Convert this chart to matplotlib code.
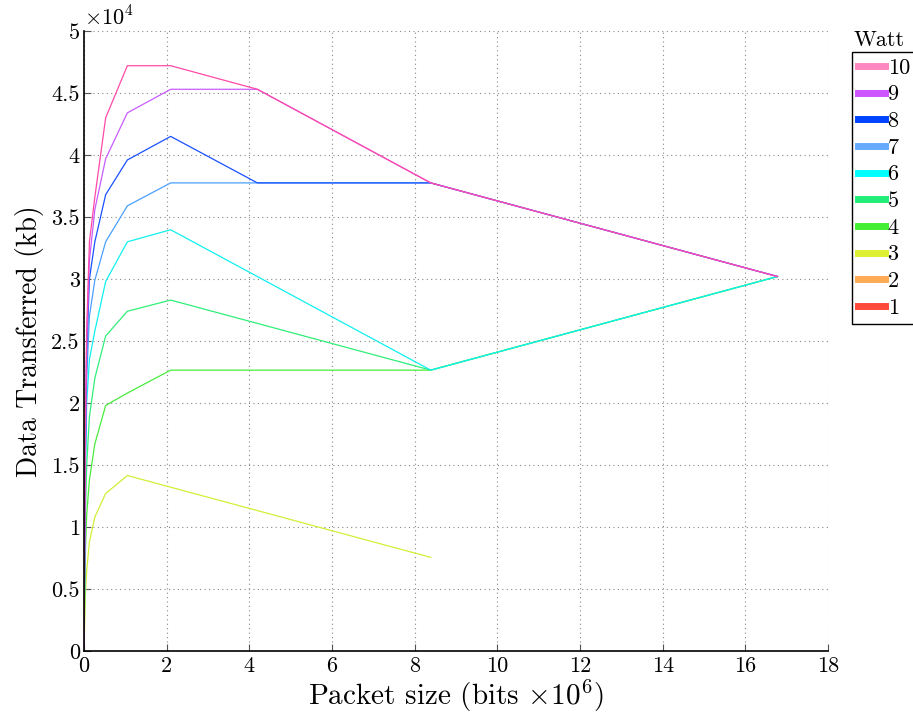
import matplotlib
matplotlib.use("Agg")
import matplotlib.pyplot as plt
import numpy as np
from matplotlib.lines import Line2D

plt.rcParams["font.family"] = ["cmr10", "DejaVu Serif"]
plt.rcParams["mathtext.fontset"] = "cm"
plt.rcParams["axes.formatter.use_mathtext"] = True

# packet sizes (bits x 10^6)
packet_size = [0.0, 0.0328, 0.0655, 0.131, 0.262, 0.524, 1.049, 2.097, 4.194, 8.389, 16.777]

# data transferred (kb) for each transmit power level (Watt)
watt_10 = [0, 18000, 26000, 33000, 36600, 43000, 47200, 47200, 45300, 37750, 30200]
watt_9 = [0, 17000, 25000, 31500, 35600, 39700, 43400, 45300, 45300, 37750, 30200]
watt_8 = [0, 16000, 24000, 30000, 33000, 36800, 39600, 41500, 37750, 37750, 30200]
watt_7 = [0, 15000, 22000, 27000, 29900, 33000, 35900, 37750, 37750, 37750, 30200]
watt_6 = [0, 14000, 20000, 23500, 25800, 29800, 33000, 33970, 30200, 22650, 30200]
watt_5 = [0, 11000, 15000, 18900, 22000, 25400, 27400, 28300, 26420, 22650, 30200]
watt_4 = [0, 8000, 11000, 13800, 16700, 19800, 20800, 22650, 22650, 22650, 30200]
watt_3 = [0, 4500, 6500, 8800, 10800, 12700, 14150, 13210, 11325, 7550, np.nan]
watt_2 = [np.nan] * len(packet_size)
watt_1 = [np.nan] * len(packet_size)

series_labels = ["10", "9", "8", "7", "6", "5", "4", "3", "2", "1"]
series_values = [watt_10, watt_9, watt_8, watt_7, watt_6, watt_5, watt_4, watt_3, watt_2, watt_1]
line_colors = ["#ff4aa8", "#c85cff", "#1a50ff", "#4aa0ff", "#10f0f0",
               "#30ee78", "#48ec3c", "#d4ee38", "#ffaa55", "#ff4a3a"]
legend_colors = ["#ff88c0", "#cc55ff", "#0044ff", "#66aaff", "#00ffff",
                 "#22ee77", "#44ee33", "#ddf033", "#ffaa55", "#ff4a3a"]

x_ticks = [0, 2, 4, 6, 8, 10, 12, 14, 16, 18]
y_ticks = [0, 5000, 10000, 15000, 20000, 25000, 30000, 35000, 40000, 45000, 50000]
y_tick_labels = ["0", "0.5", "1", "1.5", "2", "2.5", "3", "3.5", "4", "4.5", "5"]

fig = plt.figure(figsize=(9.13, 7.13), dpi=100)
ax = fig.add_axes([84 / 913, 1 - 651 / 713, (828 - 84) / 913, (651 - 31) / 713])

# draw lowest power first so higher power lines sit on top
for lbl, vals, col in reversed(list(zip(series_labels, series_values, line_colors))):
    ax.plot(packet_size, vals, color=col, lw=0.9)

ax.set_xlim(0, 18)
ax.set_ylim(0, 50000)
ax.set_xticks(x_ticks)
ax.set_xticklabels([str(t) for t in x_ticks])
ax.set_yticks(y_ticks)
ax.set_yticklabels(y_tick_labels)
ax.tick_params(direction="in", labelsize=16, length=5, width=0.8, color="#555555")
ax.tick_params(axis="y", pad=3)
ax.tick_params(axis="x", pad=4)
ax.grid(True, linestyle=(0, (1, 3)), color="#888888", lw=0.8)
for side in ("top", "right"):
    ax.spines[side].set_visible(False)
for side in ("left", "bottom"):
    ax.spines[side].set_linewidth(1.2)

ax.set_xlabel(r"Packet size (bits $\times 10^6$)", fontsize=21, labelpad=1)
ax.set_ylabel("Data Transferred (kb)", fontsize=20, labelpad=5)
ax.text(0.0, 1.003, r"$\times 10^4$", transform=ax.transAxes, fontsize=16,
        ha="left", va="bottom")

handles = [Line2D([], [], color=c, lw=5) for c in legend_colors]
fig.legend(handles, series_labels, loc="upper left",
           bbox_to_anchor=(852 / 913, 1 - 52 / 713), borderaxespad=0,
           fontsize=16, handlelength=1.2, handletextpad=0.12,
           labelspacing=0.32, borderpad=0.28, fancybox=False,
           edgecolor="black", framealpha=1)
fig.text(879 / 913, 1 - 40 / 713, "Watt", fontsize=16, ha="center", va="center")

fig.savefig("out.png", dpi=100)
